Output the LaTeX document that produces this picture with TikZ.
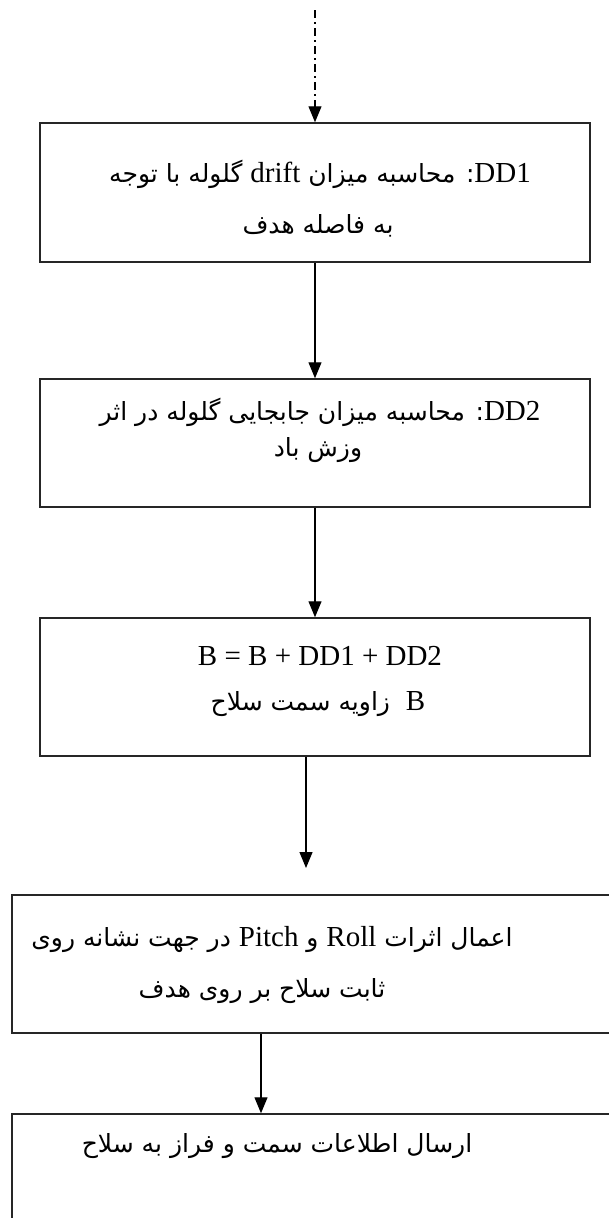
\documentclass[tikz,border=0pt]{standalone}
\usepackage{fontspec}
\setmainfont{Liberation Serif}
\newfontfamily\fa[Script=Arabic]{DejaVu Sans}
\TeXXeTstate=1
\usetikzlibrary{arrows.meta}
% Latin words inside right-to-left Persian lines
\newcommand\latw[1]{{\fontsize{29}{31}\rmfamily\beginL #1\endL}}

\begin{document}
\begin{tikzpicture}[x=1pt,y=-1pt,
  box/.style={draw=black!85, line width=1.5pt, fill=white, inner sep=0pt},
  arr/.style={line width=1.2pt, -{Triangle[width=13pt,length=16pt]}},
  faline/.style={anchor=base, inner sep=0pt, font=\fa\fontsize{25}{29}\selectfont},
  laline/.style={anchor=base, inner sep=0pt, font=\fontsize{29}{31}\selectfont}]
\useasboundingbox (0,0) rectangle (608,1218);

% process boxes
\node[box, minimum width=550pt, minimum height=139pt] (b1) at (315,192.5) {};
\node[box, minimum width=550pt, minimum height=128pt] (b2) at (315,443) {};
\node[box, minimum width=550pt, minimum height=138pt] (b3) at (315,687) {};
\node[box, minimum width=608pt, minimum height=138pt] (b4) at (316,964) {};
\node[box, minimum width=608pt, minimum height=146pt] (b5) at (316,1187) {};

% texts
\node[faline] (t1a) at (320,182) {\beginR\latw{DD1}: محاسبه میزان \latw{drift} گلوله با توجه\endR};
\node[faline] (t1b) at (318,233) {\beginR به فاصله هدف\endR};
\node[faline] (t2a) at (320,420) {\beginR\latw{DD2}: محاسبه میزان جابجایی گلوله در اثر\endR};
\node[faline] (t2b) at (318,456) {\beginR وزش باد\endR};
\node[laline] (t3a) at (320,665) {B = B + DD1 + DD2};
\node[faline] (t3b) at (318,710) {\beginR\latw{B}\ \ زاویه سمت سلاح\endR};
\node[faline] (t4a) at (272,946) {\beginR اعمال اثرات \latw{Roll} و \latw{Pitch} در جهت نشانه روی\endR};
\node[faline] (t4b) at (262,997) {\beginR ثابت سلاح بر روی هدف\endR};
\node[faline] (t5a) at (277,1152) {\beginR ارسال اطلاعات سمت و فراز به سلاح\endR};

% connectors
\coordinate (s0) at (315,10);
\coordinate (e3) at (306,868);
\coordinate (c4) at (261,0);
\draw[arr, dash pattern=on 8pt off 4pt on 2pt off 4pt] (s0) -- (b1.north);
\draw[arr] (b1.south) -- (b2.north);
\draw[arr] (b2.south) -- (b3.north);
\draw[arr] (b3.south -| e3) -- (e3);
\draw[arr] (b4.south -| c4) -- (b5.north -| c4);
\end{tikzpicture}
\end{document}
